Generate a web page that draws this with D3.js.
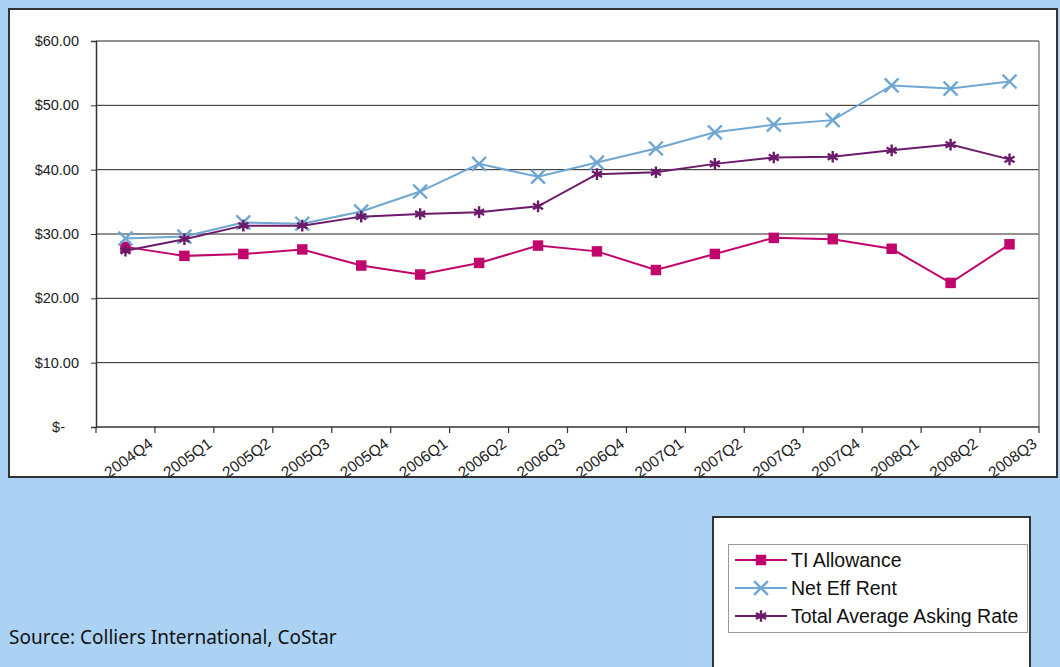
<!DOCTYPE html>
<html>
<head>
<meta charset="utf-8">
<script src="https://cdnjs.cloudflare.com/ajax/libs/d3/7.8.5/d3.min.js"></script>
<style>
  body { margin: 0; background: #abd1f3; }
  svg { display: block; }
</style>
</head>
<body>
<script>
// chart data
var quarters = ["2004Q4", "2005Q1", "2005Q2", "2005Q3", "2005Q4", "2006Q1", "2006Q2", "2006Q3",
                "2006Q4", "2007Q1", "2007Q2", "2007Q3", "2007Q4", "2008Q1", "2008Q2", "2008Q3"];
var tiAllowance = [28.0, 26.6, 26.9, 27.6, 25.1, 23.7, 25.5, 28.2, 27.3, 24.4, 26.9, 29.4, 29.2, 27.7, 22.4, 28.4];
var netEffRent  = [29.3, 29.6, 31.8, 31.6, 33.5, 36.6, 40.9, 38.9, 41.1, 43.3, 45.8, 47.0, 47.7, 53.1, 52.6, 53.7];
var totalAsking = [27.4, 29.2, 31.3, 31.3, 32.7, 33.1, 33.4, 34.3, 39.3, 39.6, 40.9, 41.9, 42.0, 43.0, 43.9, 41.6];
var yTickValues = [0, 10, 20, 30, 40, 50, 60];
var yTickLabels = ["$-", "$10.00", "$20.00", "$30.00", "$40.00", "$50.00", "$60.00"];
var seriesNames = ["TI Allowance", "Net Eff Rent", "Total Average Asking Rate"];

var W = 1060, H = 667;
var pLeft = 96, pRight = 1039, pTop = 41, pBottom = 427;

var svg = d3.select("body").append("svg")
    .attr("width", W)
    .attr("height", H);

// white chart panel
svg.append("rect")
    .attr("x", 9).attr("y", 9)
    .attr("width", 1048).attr("height", 468)
    .attr("fill", "white")
    .attr("stroke", "#333").attr("stroke-width", 2);

var x = d3.scaleBand().domain(quarters).range([pLeft, pRight]).padding(0);
var y = d3.scaleLinear().domain([0, 60]).range([pBottom, pTop]);
var cx = function(d, i) { return x(quarters[i]) + x.bandwidth() / 2; };

// gridlines
svg.selectAll("line.grid")
    .data(yTickValues.slice(1))
    .enter().append("line")
    .attr("class", "grid")
    .attr("x1", pLeft).attr("x2", pRight)
    .attr("y1", function(d) { return y(d); })
    .attr("y2", function(d) { return y(d); })
    .attr("stroke", "#222").attr("stroke-width", 1);

// right border
svg.append("line")
    .attr("x1", pRight).attr("x2", pRight)
    .attr("y1", pTop).attr("y2", pBottom)
    .attr("stroke", "#888").attr("stroke-width", 1.5);

// y axis
var yAxis = d3.axisLeft(y)
    .tickValues(yTickValues)
    .tickFormat(function(d, i) { return yTickLabels[i]; })
    .tickSize(5).tickPadding(12);
var gy = svg.append("g").attr("transform", "translate(" + pLeft + ",0)").call(yAxis);
gy.select(".domain").attr("stroke", "#333").attr("stroke-width", 1.5);
gy.selectAll(".tick line").attr("stroke", "#333");
gy.selectAll(".tick text")
    .attr("font-family", "Liberation Sans, Arial, sans-serif")
    .attr("font-size", "14.5px")
    .attr("fill", "#222")
    .attr("dx", function(d) { return d === 0 ? -14 : 0; });

// x axis line
svg.append("line")
    .attr("x1", pLeft).attr("x2", pRight)
    .attr("y1", pBottom).attr("y2", pBottom)
    .attr("stroke", "#333").attr("stroke-width", 1.5);

// x ticks on band edges
var edges = [pLeft].concat(quarters.map(function(q) { return x(q) + x.bandwidth(); }));
svg.selectAll("line.xtick")
    .data(edges)
    .enter().append("line")
    .attr("class", "xtick")
    .attr("x1", function(d) { return d; }).attr("x2", function(d) { return d; })
    .attr("y1", pBottom).attr("y2", pBottom + 6)
    .attr("stroke", "#333").attr("stroke-width", 1.2);

svg.selectAll("text.xlab")
    .data(quarters)
    .enter().append("text")
    .attr("class", "xlab")
    .attr("transform", function(d) {
      return "translate(" + (x(d) + x.bandwidth() - 1) + "," + (pBottom + 19) + ") rotate(-36)";
    })
    .attr("text-anchor", "end")
    .attr("font-family", "Liberation Sans, Arial, sans-serif")
    .attr("font-size", "15.5px")
    .attr("fill", "#222")
    .text(function(d) { return d; });

// series
var series = [
  { name: seriesNames[0], values: tiAllowance, color: "#c0066c", symbol: d3.symbolSquare, size: 110, filled: true },
  { name: seriesNames[1], values: netEffRent,  color: "#6fa7d3", symbol: d3.symbolX, size: 128, filled: false },
  { name: seriesNames[2], values: totalAsking, color: "#6c1a6a", symbol: d3.symbolAsterisk, size: 95, filled: false }
];

var line = d3.line()
    .x(function(d, i) { return cx(d, i); })
    .y(function(d) { return y(d); });

series.forEach(function(s) {
  svg.append("path")
      .datum(s.values)
      .attr("d", line)
      .attr("fill", "none")
      .attr("stroke", s.color)
      .attr("stroke-width", 2);

  svg.selectAll(null)
      .data(s.values)
      .enter().append("path")
      .attr("transform", function(d, i) { return "translate(" + cx(d, i) + "," + y(d) + ")"; })
      .attr("d", d3.symbol().type(s.symbol).size(s.size))
      .attr("fill", s.filled ? s.color : "none")
      .attr("stroke", s.color)
      .attr("stroke-width", s.filled ? 0 : 2.4);
});

// legend
svg.append("rect")
    .attr("x", 713).attr("y", 517)
    .attr("width", 317).attr("height", 160)
    .attr("fill", "white")
    .attr("stroke", "#333").attr("stroke-width", 2);
svg.append("rect")
    .attr("x", 728.5).attr("y", 544.5)
    .attr("width", 299).attr("height", 88)
    .attr("fill", "white")
    .attr("stroke", "#999").attr("stroke-width", 1);

var lg = svg.selectAll("g.legend")
    .data(series)
    .enter().append("g")
    .attr("class", "legend")
    .attr("transform", function(d, i) { return "translate(735," + (560 + i * 28) + ")"; });
lg.append("line")
    .attr("x1", 0).attr("x2", 52)
    .attr("stroke", function(d) { return d.color; })
    .attr("stroke-width", 2);
lg.append("path")
    .attr("transform", "translate(26,0)")
    .attr("d", function(d) { return d3.symbol().type(d.symbol).size(d.size)(); })
    .attr("fill", function(d) { return d.filled ? d.color : "none"; })
    .attr("stroke", function(d) { return d.color; })
    .attr("stroke-width", function(d) { return d.filled ? 0 : 2.4; });
lg.append("text")
    .attr("x", 56).attr("y", 7)
    .attr("font-family", "Liberation Sans, Arial, sans-serif")
    .attr("font-size", "19.5px")
    .attr("fill", "#111")
    .text(function(d) { return d.name; });

// source note
svg.append("text")
    .attr("x", 9).attr("y", 644)
    .attr("font-family", "Noto Sans, sans-serif")
    .attr("font-size", "19px")
    .attr("fill", "#111")
    .text("Source: Colliers International, CoStar");
</script>
</body>
</html>
